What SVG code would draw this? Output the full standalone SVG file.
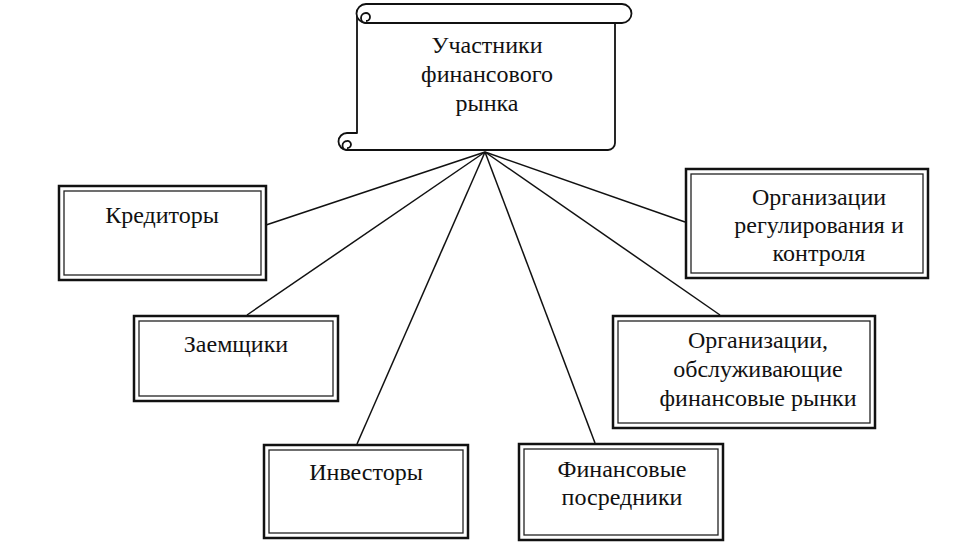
<svg xmlns="http://www.w3.org/2000/svg" width="980" height="560" viewBox="0 0 980 560">
<style>
  .t{font-family:"Liberation Serif","Times New Roman",serif;font-size:24px;fill:#111;text-anchor:middle}
  .o{fill:#fff;stroke:#111;stroke-width:2.5}
  .i{fill:none;stroke:#222;stroke-width:1.3}
  .s{fill:#fff;stroke:#111;stroke-width:1.8;stroke-linejoin:round}
  .c{fill:none;stroke:#111;stroke-width:1.5}
</style>
<rect width="980" height="560" fill="#fff"/>
<g id="connectors" class="c">
  <line x1="485" y1="152" x2="266" y2="225"/>
  <line x1="485" y1="152" x2="247" y2="315"/>
  <line x1="485" y1="152" x2="357" y2="444"/>
  <line x1="485" y1="152" x2="595" y2="443"/>
  <line x1="485" y1="152" x2="720" y2="315"/>
  <line x1="485" y1="152" x2="685" y2="222"/>
</g>
<g id="root">
  <path class="s" d="M357,14 V133 H347 A8.5 8.5 0 0 0 347,150 H608 A7 7 0 0 0 615,143 V23"/>
  <path class="s" d="M366,4 H622 A9.5 9.5 0 0 1 622,23 H366 A9.5 9.5 0 0 1 366,4 Z"/>
  <path class="s" fill="none" d="M366,23 A5 5 0 0 1 366,13 A4 4 0 0 1 370,17 A4 4 0 0 1 366,21"/>
  <path class="s" fill="none" d="M347,150 A4.5 4.5 0 0 1 347,141 A3.5 3.5 0 0 1 351,144.5 A3.5 3.5 0 0 1 347,148"/>
  <text class="t" x="487" y="53">Участники</text>
  <text class="t" x="487" y="82">финансового</text>
  <text class="t" x="487" y="111">рынка</text>
</g>
<g id="kreditory">
  <rect class="o" x="59" y="186" width="207" height="94"/>
  <rect class="i" x="64" y="191" width="197" height="84"/>
  <text class="t" x="162" y="223">Кредиторы</text>
</g>
<g id="zaemshchiki">
  <rect class="o" x="134" y="316" width="204" height="85"/>
  <rect class="i" x="139" y="321" width="194" height="75"/>
  <text class="t" x="236" y="352">Заемщики</text>
</g>
<g id="investory">
  <rect class="o" x="264" y="445" width="204" height="93"/>
  <rect class="i" x="269" y="450" width="194" height="83"/>
  <text class="t" x="366" y="480">Инвесторы</text>
</g>
<g id="posredniki">
  <rect class="o" x="519" y="444" width="204" height="96"/>
  <rect class="i" x="524" y="449" width="194" height="86"/>
  <text class="t" x="622" y="477">Финансовые</text>
  <text class="t" x="622" y="505">посредники</text>
</g>
<g id="obsluzhivayushchie">
  <rect class="o" x="613" y="316" width="262" height="112"/>
  <rect class="i" x="618" y="321" width="252" height="102"/>
  <text class="t" x="758" y="348">Организации,</text>
  <text class="t" x="758" y="377">обслуживающие</text>
  <text class="t" x="758" y="406">финансовые рынки</text>
</g>
<g id="regulirovanie">
  <rect class="o" x="686" y="169" width="242" height="109"/>
  <rect class="i" x="691" y="174" width="232" height="99"/>
  <text class="t" x="819" y="205">Организации</text>
  <text class="t" x="819" y="233">регулирования и</text>
  <text class="t" x="819" y="261">контроля</text>
</g>
</svg>
